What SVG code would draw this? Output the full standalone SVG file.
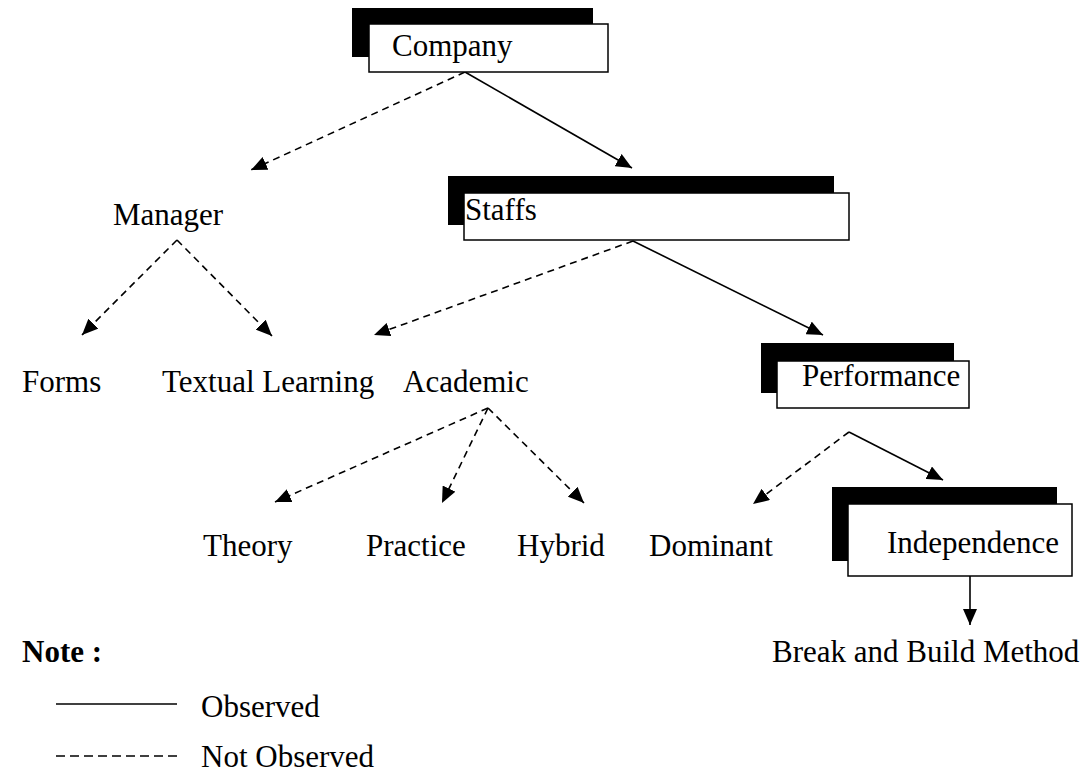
<svg xmlns="http://www.w3.org/2000/svg" width="1088" height="775" viewBox="0 0 1088 775">
<style>
text{font-family:"Liberation Serif","Times New Roman",serif;font-size:31px;fill:#000}
.bold{font-weight:bold}
.shadow{fill:#000}
.box{fill:#fff;stroke:#000;stroke-width:1.5}
.solid{stroke:#000;stroke-width:1.6;fill:none}
.dash{stroke:#000;stroke-width:1.6;fill:none;stroke-dasharray:7 5}
</style>
<defs>
<marker id="arr" markerUnits="userSpaceOnUse" markerWidth="18" markerHeight="14" refX="16" refY="7" orient="auto">
<path d="M0,0 L16,7 L0,14 z" fill="#000"/>
</marker>
</defs>
<rect width="1088" height="775" fill="#fff"/>
<g id="connectors">
<line class="dash" x1="465" y1="72" x2="251" y2="170" marker-end="url(#arr)"/>
<line class="solid" x1="465" y1="72" x2="632" y2="168" marker-end="url(#arr)"/>
<line class="dash" x1="177" y1="240" x2="82" y2="335" marker-end="url(#arr)"/>
<line class="dash" x1="177" y1="240" x2="272" y2="336" marker-end="url(#arr)"/>
<line class="dash" x1="633" y1="241" x2="374" y2="335" marker-end="url(#arr)"/>
<line class="solid" x1="633" y1="241" x2="823" y2="335" marker-end="url(#arr)"/>
<line class="dash" x1="488" y1="408" x2="275" y2="502" marker-end="url(#arr)"/>
<line class="dash" x1="488" y1="408" x2="442" y2="503" marker-end="url(#arr)"/>
<line class="dash" x1="488" y1="408" x2="584" y2="503" marker-end="url(#arr)"/>
<line class="dash" x1="849" y1="432" x2="753" y2="504" marker-end="url(#arr)"/>
<line class="solid" x1="849" y1="432" x2="943" y2="480" marker-end="url(#arr)"/>
<line class="solid" x1="970" y1="555" x2="970" y2="625" marker-end="url(#arr)"/>
</g>
<g id="company">
<rect class="shadow" x="352" y="8" width="241" height="49"/>
<rect class="box" x="369" y="24" width="239" height="48"/>
<text x="392" y="56">Company</text>
</g>
<g id="manager"><text x="113" y="225">Manager</text></g>
<g id="staffs">
<rect class="shadow" x="448" y="176" width="386" height="49"/>
<rect class="box" x="464" y="193" width="385" height="47"/>
<text x="465" y="220">Staffs</text>
</g>
<g id="forms"><text x="22" y="392">Forms</text></g>
<g id="textual"><text x="162" y="392">Textual Learning</text></g>
<g id="academic"><text x="403" y="392">Academic</text></g>
<g id="performance">
<rect class="shadow" x="761" y="343" width="193" height="50"/>
<rect class="box" x="777" y="361" width="192" height="47"/>
<text x="802" y="386">Performance</text>
</g>
<g id="theory"><text x="203" y="556">Theory</text></g>
<g id="practice"><text x="366" y="556">Practice</text></g>
<g id="hybrid"><text x="517" y="556">Hybrid</text></g>
<g id="dominant"><text x="649" y="556">Dominant</text></g>
<g id="independence">
<rect class="shadow" x="832" y="487" width="225" height="74"/>
<rect class="box" x="848" y="504" width="224" height="72"/>
<text x="887" y="553">Independence</text>
</g>
<g id="break"><text x="772" y="662">Break and Build Method</text></g>
<g id="legend">
<text class="bold" x="22" y="662">Note :</text>
<line class="solid" x1="56" y1="704" x2="177" y2="704"/>
<text x="201" y="717">Observed</text>
<line class="dash" x1="56" y1="756" x2="177" y2="756" style="stroke-dasharray:9 5"/>
<text x="201" y="767">Not Observed</text>
</g>
</svg>
